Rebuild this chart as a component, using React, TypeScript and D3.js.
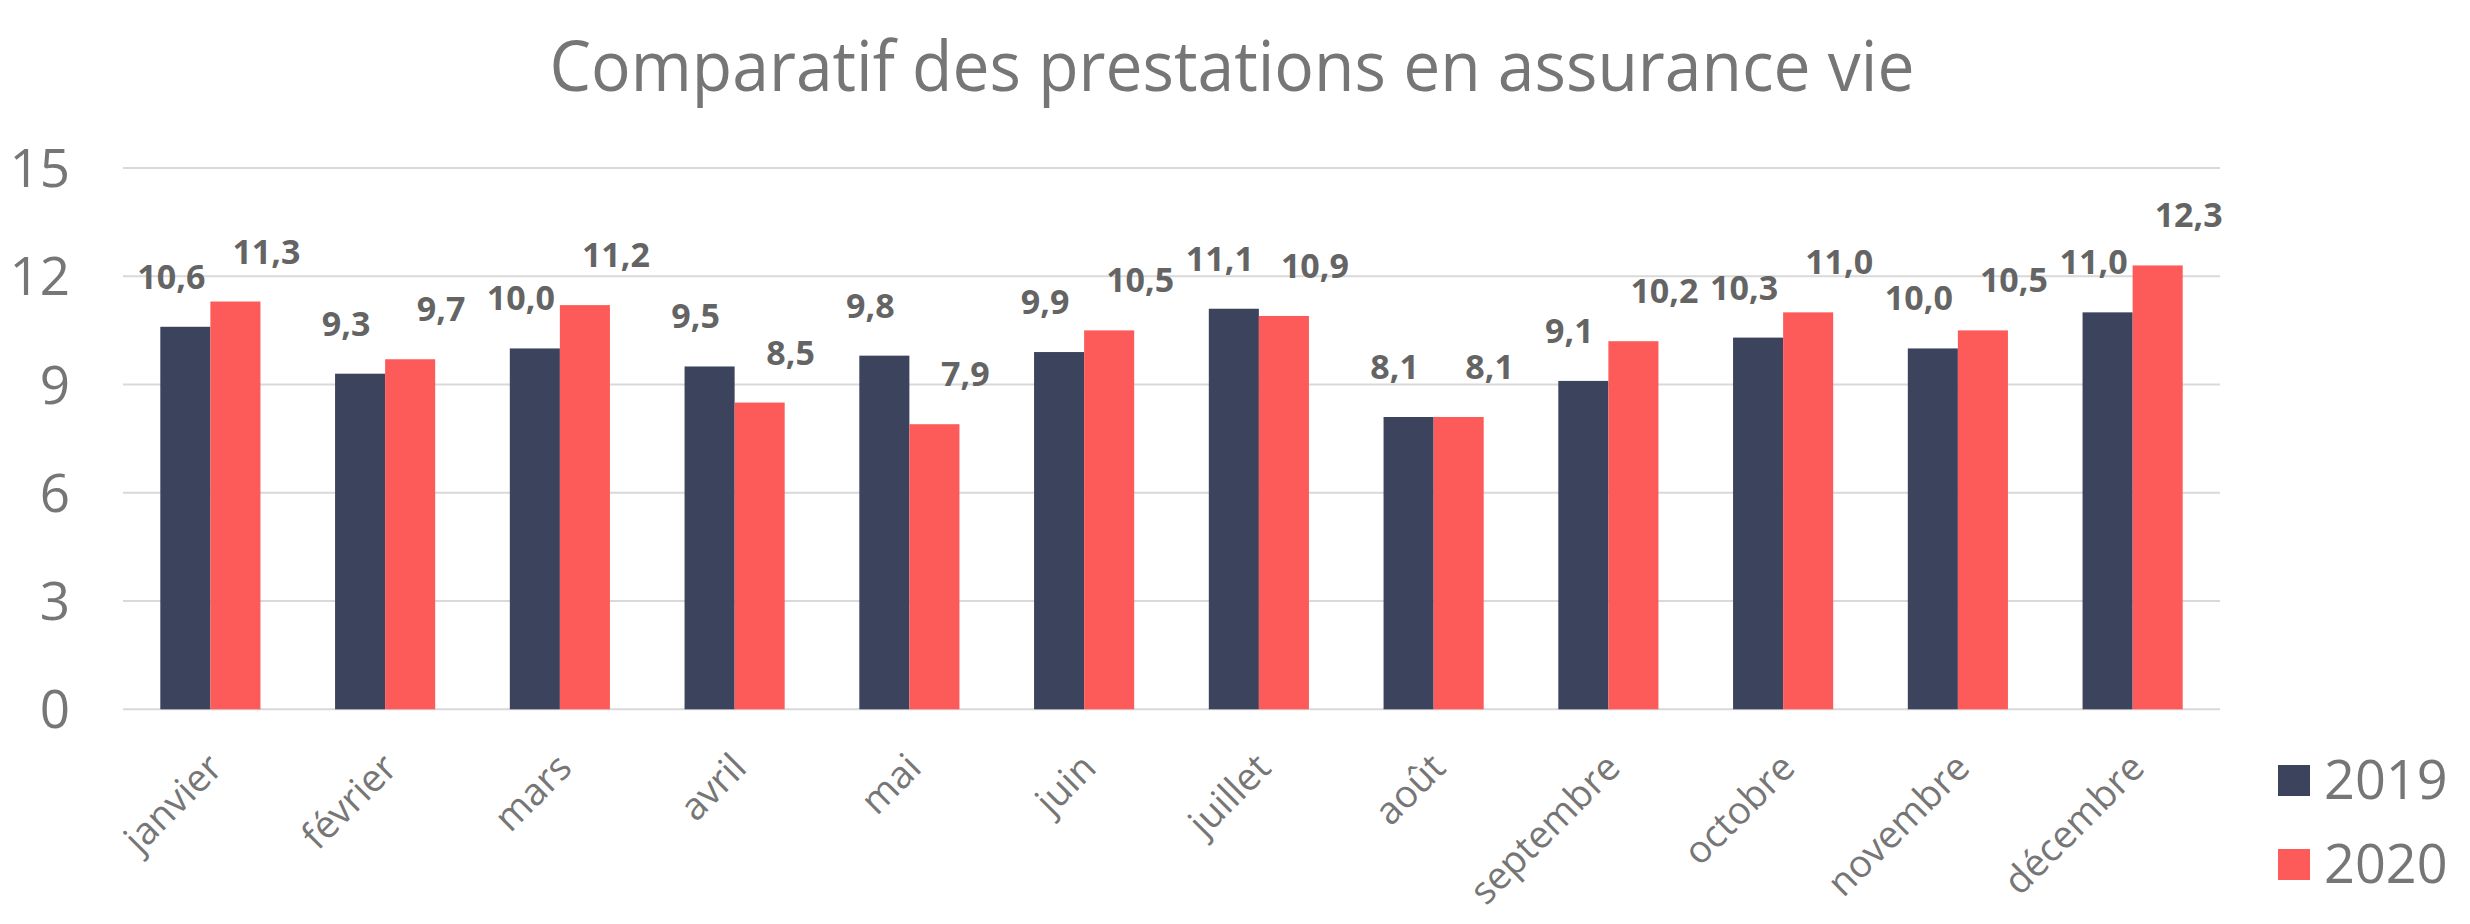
import React from "react";
import * as d3 from "d3";

const months = ["janvier", "février", "mars", "avril", "mai", "juin", "juillet", "août", "septembre", "octobre", "novembre", "décembre"];
const series = ["2019", "2020"];
const values2019 = [10.6, 9.3, 10.0, 9.5, 9.8, 9.9, 11.1, 8.1, 9.1, 10.3, 10.0, 11.0];
const values2020 = [11.3, 9.7, 11.2, 8.5, 7.9, 10.5, 10.9, 8.1, 10.2, 11.0, 10.5, 12.3];
const yTicks = [0, 3, 6, 9, 12, 15];
const title = "Comparatif des prestations en assurance vie";

const W = 2470;
const H = 924;
const colors = ["#3C435D", "#FD5B59"];
const labelOffsets = [-25, 20];

export default function App() {
  const x = d3.scaleBand<string>().domain(months).range([123, 2220]).paddingInner(0.427).paddingOuter(0.2135);
  const inner = d3.scaleBand<string>().domain(series).range([0, x.bandwidth()]);
  const y = d3.scaleLinear().domain([0, 15]).range([709.3, 168]);
  const data = [values2019, values2020];
  const fmt = (v: number) => v.toFixed(1).replace(".", ",");

  return (
    <svg width={W} height={H} style={{ position: "absolute", left: 0, top: 0, background: "#fff" }}>
      <text
        x={1232}
        y={91}
        textAnchor="middle"
        fontFamily="'Open Sans'"
        fontSize={69}
        fill="#767676"
        textLength={1365}
        lengthAdjust="spacingAndGlyphs"
      >
        {title}
      </text>
      {yTicks.map((t) => (
        <g key={t}>
          <line x1={123} x2={2220} y1={y(t)} y2={y(t)} stroke="#D9D9D9" strokeWidth={2} />
          <text x={70} y={y(t) + 19} textAnchor="end" fontFamily="'Open Sans'" fontSize={53} fill="#767676">
            {t}
          </text>
        </g>
      ))}
      {months.map((m, i) => (
        <g key={m} transform={`translate(${x(m)},0)`}>
          {series.map((s, k) => {
            const v = data[k][i];
            const bx = inner(s)!;
            return (
              <g key={s}>
                <rect x={bx} y={y(v)} width={inner.bandwidth()} height={y(0) - y(v)} fill={colors[k]} />
                <text
                  x={bx + inner.bandwidth() / 2 + labelOffsets[k] + 11}
                  y={y(v) - 38}
                  textAnchor="middle"
                  fontFamily="'Open Sans'"
                  fontWeight="bold"
                  fontSize={34}
                  fill="#646464"
                >
                  {fmt(v)}
                </text>
              </g>
            );
          })}
        </g>
      ))}
      {months.map((m) => {
        const cx = x(m)! + x.bandwidth() / 2 + 14;
        const cy = 770;
        return (
          <text
            key={m}
            transform={`translate(${cx},${cy}) rotate(-45)`}
            textAnchor="end"
            fontFamily="'Open Sans'"
            fontSize={38}
            fill="#767676"
          >
            {m}
          </text>
        );
      })}
      {series.map((s, k) => (
        <g key={s} transform={`translate(2278,${765 + k * 84})`}>
          <rect x={0} y={0} width={32} height={31} fill={colors[k]} />
          <text x={46} y={34} fontFamily="'Open Sans'" fontSize={54} fill="#767676">
            {s}
          </text>
        </g>
      ))}
    </svg>
  );
}
